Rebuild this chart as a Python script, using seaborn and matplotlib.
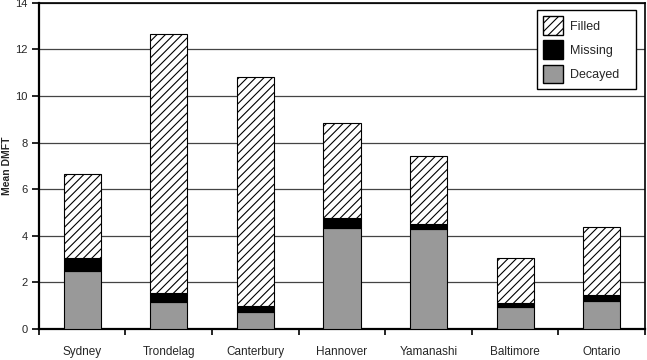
import pandas as pd
import seaborn as sns
import matplotlib.pyplot as plt
from matplotlib.patches import Patch

# Data
cities = ['Sydney', 'Trondelag', 'Canterbury', 'Hannover', 'Yamanashi', 'Baltimore', 'Ontario']
decayed = [2.5, 1.15, 0.72, 4.35, 4.28, 0.95, 1.2]
missing = [0.56, 0.38, 0.27, 0.43, 0.21, 0.15, 0.27]
filled = [3.61, 11.13, 9.81, 4.08, 2.94, 1.96, 2.91]

df = pd.DataFrame({'city': cities, 'Decayed': decayed, 'Missing': missing, 'Filled': filled})
df['dm'] = df['Decayed'] + df['Missing']

sns.set_style('white')
plt.rcParams['font.family'] = ['Liberation Sans', 'DejaVu Sans']
plt.rcParams['hatch.linewidth'] = 0.8

fig, ax = plt.subplots(figsize=(6.47, 3.6), dpi=100)
fig.subplots_adjust(left=0.06, right=0.997, bottom=0.086, top=0.992)

w = 0.43
sns.barplot(data=df, x='city', y='Decayed', color='#999999', edgecolor='black',
            linewidth=0.8, width=w, saturation=1, ax=ax, zorder=3)
sns.barplot(data=df, x='city', y='Missing', bottom=df['Decayed'], color='black',
            edgecolor='black', linewidth=0.8, width=w, saturation=1, ax=ax, zorder=3)
sns.barplot(data=df, x='city', y='Filled', bottom=df['dm'], color='white',
            edgecolor='black', linewidth=0.8, width=w, saturation=1, hatch='////',
            ax=ax, zorder=3)

ax.set_xlim(-0.5, len(cities) - 0.5)
ax.set_ylim(0, 14)
ax.set_yticks(range(0, 15, 2))
ax.yaxis.grid(True, color='#444444', linewidth=0.9, zorder=0)
ax.set_axisbelow(True)

ax.set_xticks(range(len(cities)))
ax.set_xticklabels(cities, fontsize=8.5)
ax.set_xticks([i - 0.5 for i in range(len(cities) + 1)], minor=True)
ax.tick_params(axis='x', which='major', length=0, pad=12)
ax.tick_params(axis='x', which='minor', length=4, width=1.2, direction='out', color='black', bottom=True)
ax.tick_params(axis='y', length=5, width=1.2, direction='out', color='black', left=True, labelsize=8, pad=3)

for side in ['left', 'bottom']:
    ax.spines[side].set_linewidth(1.6)
for side in ['top', 'right']:
    ax.spines[side].set_linewidth(1.2)
for s in ax.spines.values():
    s.set_color('black')

ax.set_xlabel('')
ax.set_ylabel('Mean DMFT', fontsize=7.5, fontweight='bold')
ax.yaxis.set_label_coords(-0.044, 0.5)

handles = [Patch(facecolor='white', edgecolor='black', hatch='////', label='Filled'),
           Patch(facecolor='black', edgecolor='black', label='Missing'),
           Patch(facecolor='#999999', edgecolor='black', label='Decayed')]
leg = ax.legend(handles=handles, loc='upper left', bbox_to_anchor=(0.822, 0.7, 0.163, 0.278),
                mode='expand', borderaxespad=0, fontsize=9, fancybox=False, framealpha=1,
                edgecolor='black', handlelength=1.55, handleheight=1.9, labelspacing=0.45,
                borderpad=0.5, handletextpad=0.55)
leg.get_frame().set_linewidth(1.0)

plt.savefig('out.png', dpi=100)
